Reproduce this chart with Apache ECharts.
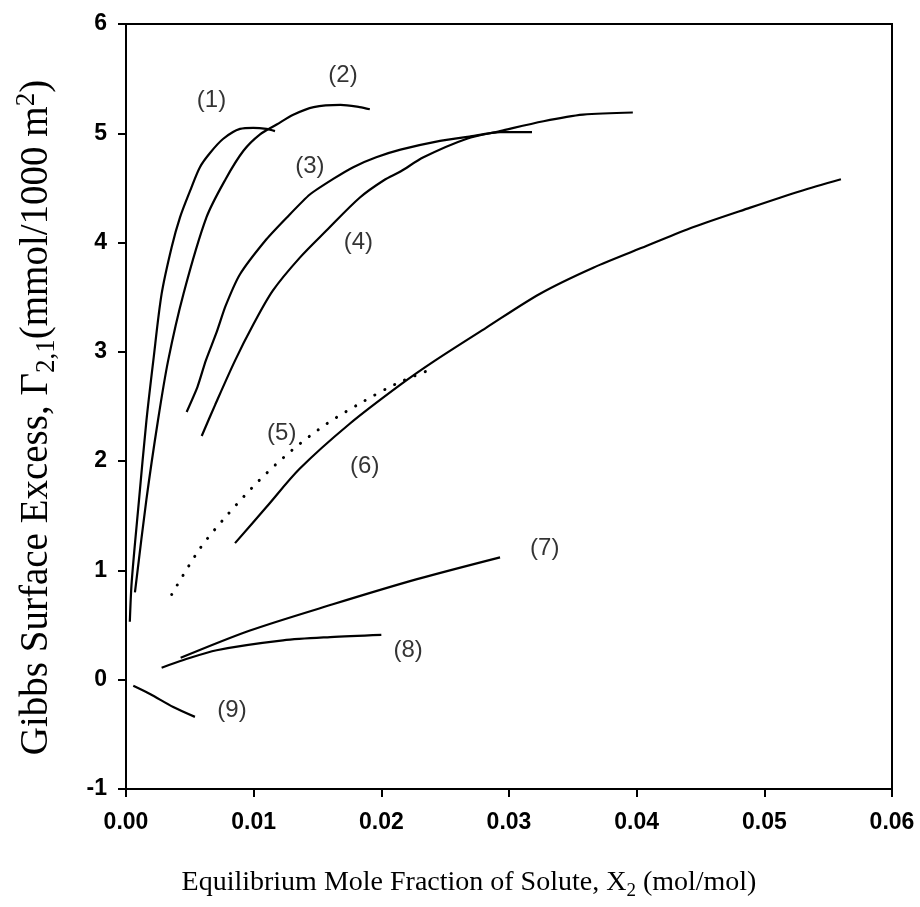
<!DOCTYPE html>
<html><head><meta charset="utf-8">
<script src="https://cdn.jsdelivr.net/npm/echarts@6/dist/echarts.min.js"></script>
<style>html,body{margin:0;padding:0;background:#fff}#c{width:920px;height:907px}</style>
</head><body><div id="c"></div>
<script>
// ---- data (x = mole fraction, y = surface excess) ----
const c1x = [0.0003, 0.00045, 0.0010, 0.0016, 0.00214, 0.00279, 0.00358, 0.00423, 0.00501, 0.00579, 0.00658, 0.00762, 0.00893, 0.00997, 0.0110, 0.01167];
const c1y = [0.53, 0.90, 1.62, 2.37, 2.92, 3.53, 3.96, 4.23, 4.47, 4.69, 4.82, 4.95, 5.04, 5.05, 5.04, 5.02];
const c2x = [0.0007, 0.0016, 0.0025, 0.0033, 0.0045, 0.0063, 0.0078, 0.0092, 0.0105, 0.0118, 0.0131, 0.0147, 0.0168, 0.0183, 0.0191];
const c2y = [0.80, 1.65, 2.37, 2.92, 3.53, 4.23, 4.58, 4.84, 4.99, 5.08, 5.17, 5.24, 5.26, 5.24, 5.22];
const c3x = [0.00475, 0.0056, 0.00625, 0.0071, 0.0078, 0.00893, 0.0110, 0.0126, 0.0144, 0.0162, 0.0178, 0.0196, 0.0215, 0.0246, 0.0269, 0.0293, 0.0318];
const c3y = [2.45, 2.68, 2.92, 3.18, 3.42, 3.71, 4.03, 4.23, 4.44, 4.58, 4.69, 4.78, 4.85, 4.93, 4.97, 5.01, 5.01];
const c4x = [0.00593, 0.0070, 0.00854, 0.00997, 0.0115, 0.0136, 0.0157, 0.0183, 0.0202, 0.0215, 0.0233, 0.0267, 0.0293, 0.0327, 0.0358, 0.0397];
const c4y = [2.23, 2.52, 2.92, 3.25, 3.56, 3.86, 4.11, 4.41, 4.57, 4.65, 4.78, 4.95, 5.02, 5.11, 5.17, 5.19];
const c5x = [0.00358, 0.00579, 0.00788, 0.0104, 0.0130, 0.0157, 0.0185, 0.0212, 0.0239];
const c5y = [0.78, 1.20, 1.50, 1.82, 2.10, 2.34, 2.54, 2.71, 2.84];
const c6x = [0.00854, 0.0110, 0.0136, 0.0175, 0.0215, 0.0242, 0.0282, 0.0324, 0.0366, 0.0408, 0.0444, 0.0489, 0.0528, 0.0560];
const c6y = [1.25, 1.58, 1.93, 2.34, 2.70, 2.92, 3.22, 3.53, 3.77, 3.97, 4.14, 4.32, 4.47, 4.58];
const c7x = [0.00428, 0.00971, 0.0162, 0.0228, 0.0293];
const c7y = [0.20, 0.45, 0.69, 0.92, 1.12];
const c8x = [0.00279, 0.0045, 0.0071, 0.0123, 0.0160, 0.0200];
const c8y = [0.11, 0.18, 0.27, 0.36, 0.39, 0.41];
const c9x = [0.00057, 0.00188, 0.0037, 0.0054];
const c9y = [-0.055, -0.13, -0.25, -0.34];

const labelText = ['(1)', '(2)', '(3)', '(4)', '(5)', '(6)', '(7)', '(8)', '(9)'];
const labelX = [0.0067, 0.0170, 0.0144, 0.0182, 0.0122, 0.0187, 0.0328, 0.0221, 0.0083];
const labelY = [5.30, 5.53, 4.70, 4.00, 2.25, 1.95, 1.20, 0.27, -0.28];

const xTickVals = [0, 0.01, 0.02, 0.03, 0.04, 0.05, 0.06];
const yTickVals = [-1, 0, 1, 2, 3, 4, 5, 6];

const zip = (xs, ys) => xs.map((x, i) => [x, ys[i]]);
function curve(xs, ys, dotted, smooth) {
  return {
    type: 'line', data: zip(xs, ys), showSymbol: false, symbol: 'none',
    smooth: smooth, silent: true, animation: false,
    lineStyle: dotted ? { color: '#000', width: 3, type: [0.1, 11], cap: 'round' }
                      : { color: '#000', width: 2.2 }
  };
}

const chart = echarts.init(document.getElementById('c'), null, { renderer: 'canvas' });
function rich(size) {
  return {
    t: { fontFamily: 'Liberation Serif', fontSize: size, lineHeight: size + 8, color: '#000', verticalAlign: 'middle' },
    sub: { fontFamily: 'Liberation Serif', fontSize: Math.round(size * 0.68), lineHeight: Math.round(size * 0.66), color: '#000', verticalAlign: 'bottom' },
    sup: { fontFamily: 'Liberation Serif', fontSize: Math.round(size * 0.68), lineHeight: Math.round(size * 0.66), color: '#000', verticalAlign: 'top' }
  };
}
chart.setOption({
  animation: false,
  backgroundColor: '#fff',
  grid: { left: 126, right: 28, top: 24, bottom: 118, show: true, borderColor: '#000', borderWidth: 2, backgroundColor: 'transparent' },
  xAxis: {
    type: 'value', min: xTickVals[0], max: xTickVals[xTickVals.length - 1], interval: 0.01,
    splitLine: { show: false },
    axisLine: { show: true, onZero: false, lineStyle: { color: '#000', width: 2 } },
    axisTick: { show: true, inside: false, length: 8, lineStyle: { color: '#000', width: 2 } },
    axisLabel: { color: '#000', fontFamily: 'Liberation Sans', fontWeight: 'bold', fontSize: 23, margin: 22, formatter: v => v.toFixed(2) },
    name: '{t|Equilibrium Mole Fraction of Solute, X}{sub|2}{t| (mol/mol)}',
    nameLocation: 'middle', nameGap: 76,
    nameTextStyle: { rich: rich(28), padding: [0, 80, 0, 0] }
  },
  yAxis: {
    type: 'value', min: yTickVals[0], max: yTickVals[yTickVals.length - 1], interval: 1,
    splitLine: { show: false },
    axisLine: { show: true, onZero: false, lineStyle: { color: '#000', width: 2 } },
    axisTick: { show: true, inside: false, length: 8, lineStyle: { color: '#000', width: 2 } },
    axisLabel: { color: '#000', fontFamily: 'Liberation Sans', fontWeight: 'bold', fontSize: 23, margin: 19 },
    name: '{t|Gibbs Surface Excess, Γ}{sub|2,1}{t|(mmol/1000 m}{sup|2}{t|)}',
    nameLocation: 'middle', nameGap: 66, nameRotate: 90,
    nameTextStyle: { rich: rich(39), padding: [0, 22, 0, 0] }
  },
  series: [
    curve(c1x, c1y, false, 0.3),
    curve(c2x, c2y, false, 0.3),
    curve(c3x, c3y, false, 0.2),
    curve(c4x, c4y, false, 0.3),
    curve(c5x, c5y, true, 0.3),
    curve(c6x, c6y, false, 0.3),
    curve(c7x, c7y, false, 0.3),
    curve(c8x, c8y, false, 0.3),
    curve(c9x, c9y, false, 0.3),
    {
      type: 'scatter', symbolSize: 0, silent: true,
      data: labelText.map((t, i) => ({ value: [labelX[i], labelY[i]], name: t })),
      label: { show: true, position: 'inside', formatter: p => p.name, color: '#000', fontFamily: 'Liberation Sans', fontSize: 24 }
    }
  ]
});
</script>
</body></html>
